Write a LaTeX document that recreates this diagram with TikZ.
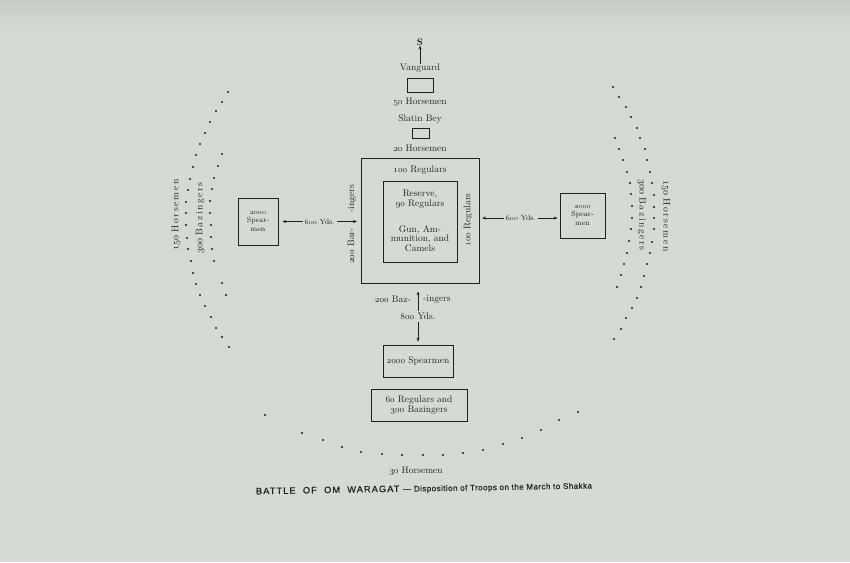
\documentclass[tikz,border=0pt]{standalone}
\usepackage{fontspec}
\usetikzlibrary{arrows.meta}
\definecolor{paper}{RGB}{214,218,212}
\definecolor{papertop}{RGB}{198,203,198}
\definecolor{ink}{RGB}{32,32,32}
\newfontfamily\capfont{Liberation Sans}
\newcommand{\osn}[1]{{\usefont{OML}{cmm}{m}{it}#1}}
\tikzset{
  txt/.style={text=ink, font=\fontsize{9.5}{9.8}\selectfont, inner sep=0pt},
  sm/.style={text=ink, font=\fontsize{7.5}{8.6}\selectfont, inner sep=0pt},
  boxed/.style={draw=ink, line width=0.7pt, inner sep=0pt},
  ar/.style={draw=ink, line width=0.6pt, -{Stealth[length=4pt,width=3pt]}},
  dar/.style={draw=ink, line width=0.6pt, {Stealth[length=4pt,width=3pt]}-{Stealth[length=4pt,width=3pt]}},
  side/.style={text=ink, font=\fontsize{9.6}{11}\selectfont, inner sep=0pt},
  captext/.style={text=ink, inner sep=0pt},
}
\begin{document}
\begin{tikzpicture}[x=1pt,y=-1pt]
\fill[paper] (0,0) rectangle (850,562);
\fill[top color=papertop, bottom color=paper, draw=none] (0,0) rectangle (850,28);
\useasboundingbox (0,0) rectangle (850,562);

% top column
\node[txt] (s) at (420,42) {\textbf{S}};
\node[txt] (van) at (420,68) {Vanguard};
\draw[ar] (van.north) -- (s.south);
\node[boxed, minimum width=26pt, minimum height=14pt] (vbox) at (420.5,85) {};
\node[txt] (h50) at (420,102) {\osn{50} Horsemen};
\node[txt] (slatin) at (420,119) {Slatin Bey};
\node[boxed, minimum width=17pt, minimum height=10pt] (sbox) at (420.5,133) {};
\node[txt] (h20) at (420,148) {\osn{20} Horsemen};

% central square
\node[boxed, minimum width=118pt, minimum height=125pt] (outer) at (420,220.5) {};
\node[txt] (reg100) at (420,170) {\osn{100} Regulars};
\node[boxed, minimum width=74pt, minimum height=81pt] (inner) at (420,221.5) {};
\node[txt, align=center] (reserve) at (420,199.5) {Reserve,\\\osn{90} Regulars};
\node[txt, align=center] (gun) at (420,238.5) {Gun, Am-\\munition, and\\Camels};
\node[txt, rotate=90] (reg100r) at (468,220) {\osn{100} Regulars};
\node[txt, rotate=90] (bar1) at (351,246) {\osn{200} Bar-};
\node[txt, rotate=90] (bar2) at (352,199) {-ingers};

% left spearmen
\node[boxed, sm, align=center, minimum width=40pt, minimum height=47pt] (lsp) at (258,221.5) {\osn{2000}\\Spear-\\men};
\coordinate (lend) at (357,221.5);
\draw[dar] ([xshift=4pt]lsp.east) -- (lend) node[midway, sm, fill=paper, inner xsep=2pt, inner ysep=1pt] {\osn{600} Yds.};

% right spearmen
\node[boxed, sm, align=center, minimum width=45pt, minimum height=45pt] (rsp) at (582.5,215.5) {\osn{2000}\\Spear-\\men};
\coordinate (rstart) at (482,218);
\draw[dar, shorten >=2pt] (rstart) -- (rstart -| rsp.west) node[midway, sm, fill=paper, inner xsep=2pt, inner ysep=1pt] {\osn{600} Yds.};

% rear
\node[boxed, txt, minimum width=70pt, minimum height=32pt] (sp2000) at (418,361) {\osn{2000} Spearmen};
\draw[dar] ([xshift=-2pt,yshift=-8pt]outer.south) -- ([yshift=3pt]sp2000.north) node[midway, txt, fill=paper, inner ysep=2pt, inner xsep=1pt] {\osn{800} Yds.};
\node[txt, anchor=east] (baz1) at (411,299) {\osn{200} Baz-};
\node[txt, anchor=west] (baz2) at (423,299) {-ingers};
\node[boxed, txt, align=center, minimum width=96pt, minimum height=32pt] (reg60) at (419,405) {\osn{60} Regulars and\\\osn{300} Bazingers};

\node[txt] (h30) at (416,471) {\osn{30} Horsemen};
\node[captext, rotate=1] (caption) at (424,489) {\capfont\fontsize{9.2}{10}\selectfont\addfontfeatures{LetterSpace=12, FakeBold=0.6}BATTLE\ \ OF\ \ OM\ \ WARAGAT\ \fontsize{8.1}{10}\selectfont\addfontfeatures{LetterSpace=5, FakeBold=0.3}— Disposition of Troops on the March to Shakka};

% side labels
\node[side, rotate=90] (lh150) at (176,215) {\osn{150}\ H\,o\,r\,s\,e\,m\,e\,n};
\node[side, rotate=90] (lb300) at (200,218) {\osn{300}\ B\,a\,z\,i\,n\,g\,e\,r\,s};
\node[side, rotate=-90] (rh150) at (666,216) {\osn{150}\ H\,o\,r\,s\,e\,m\,e\,n};
\node[side, rotate=-90] (rb300) at (642,215) {\osn{300}\ B\,a\,z\,i\,n\,g\,e\,r\,s};

% dots
\foreach \x/\y in {228/92,222/102,216/111,210/122,205/133,200/144,196/155,193/167,190/179,188/190,186/202,186/213,186/225,187/238,188/249,191/261,193/273,196/284,200/295,205/306,211/317,216/328,222/337,229/347,
222/154,218/166,214/178,212/189,210/201,210/213,211/225,211/237,212/249,214/261,222/283,226/295,
613/87,619/97,626/107,631/117,637/128,640/138,645/149,647/160,650/172,652/183,654/195,654/207,654/218,654/229,652/242,650/253,647/264,644/276,641/287,637/298,632/308,626/318,621/329,614/339,
615/138,619/149,623/160,627/172,630/183,631/194,632/206,632/218,631/229,629/241,627/253,624/264,621/275,617/287,
265/415,302/433,323/440,342/447,361/452,382/454,402/455,423/455,443/455,463/453,483/450,503/444,522/438,541/430,559/420,578/412}
  \fill[ink] (\x,\y) circle (1.2pt);
\end{tikzpicture}
\end{document}
